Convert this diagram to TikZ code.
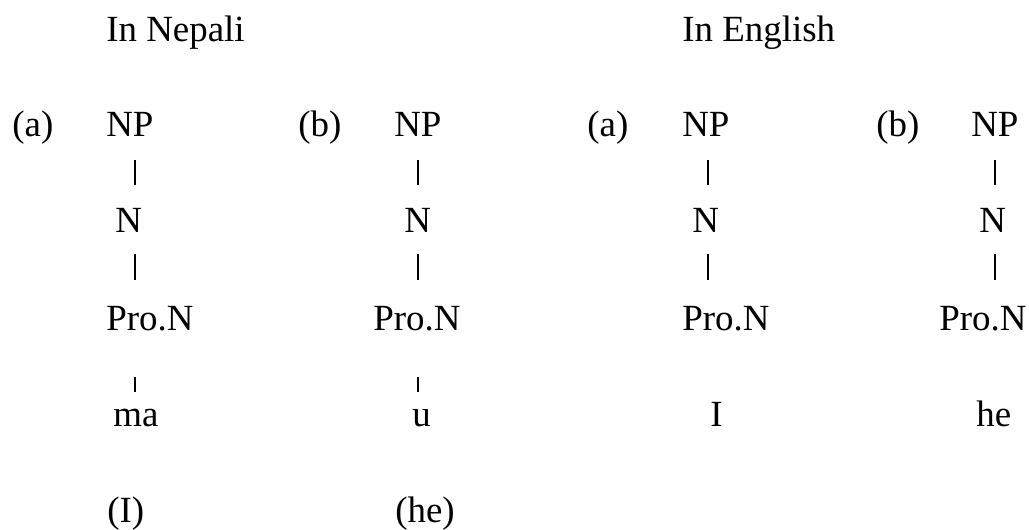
\documentclass[tikz,border=0pt]{standalone}
\usepackage{fontspec}
\setmainfont{Liberation Serif}

\begin{document}
\begin{tikzpicture}[x=0.02cm,y=-0.02cm,
  every node/.style={anchor=base west,inner sep=0pt,font=\fontsize{21}{25}\selectfont},
  tick/.style={line width=0.85pt}]
\useasboundingbox (0,0) rectangle (1029,530);

\node (nep) at (106,42) {In Nepali};
\node (eng) at (682,42) {In English};

% Nepali (a)
\node (la1) at (12,137) {(a)};
\node (np1) at (106,137) {NP};
\node (n1) at (115,233) {N};
\node (pn1) at (106,331) {Pro.N};
\node (w1) at (113,427) {ma};
\node (g1) at (107,522) {(I)};

% Nepali (b)
\node (lb2) at (298,137) {(b)};
\node (np2) at (394,137) {NP};
\node (n2) at (404,233) {N};
\node (pn2) at (373,331) {Pro.N};
\node (w2) at (412,427) {u};
\node (g2) at (395,522) {(he)};

% English (a)
\node (la3) at (587,137) {(a)};
\node (np3) at (682,137) {NP};
\node (n3) at (692,233) {N};
\node (pn3) at (682,331) {Pro.N};
\node (w3) at (710,427) {I};

% English (b)
\node (lb4) at (876,137) {(b)};
\node (np4) at (971,137) {NP};
\node (n4) at (979,233) {N};
\node (pn4) at (939,331) {Pro.N};
\node (w4) at (976,427) {he};

% the little upright strokes
\coordinate (c1) at (135,0);
\coordinate (c2) at (418,0);
\coordinate (c3) at (708,0);
\coordinate (c4) at (995,0);

\draw[tick] (c1 |- np1.base) ++(0,23) -- ++(0,25);
\draw[tick] (c1 |- n1.base) ++(0,21) -- ++(0,26);
\draw[tick] (c1 |- pn1.base) ++(0,46) -- ++(0,15);

\draw[tick] (c2 |- np2.base) ++(0,23) -- ++(0,25);
\draw[tick] (c2 |- n2.base) ++(0,21) -- ++(0,26);
\draw[tick] (c2 |- pn2.base) ++(0,46) -- ++(0,15);

\draw[tick] (c3 |- np3.base) ++(0,23) -- ++(0,25);
\draw[tick] (c3 |- n3.base) ++(0,21) -- ++(0,26);

\draw[tick] (c4 |- np4.base) ++(0,23) -- ++(0,25);
\draw[tick] (c4 |- n4.base) ++(0,21) -- ++(0,26);
\end{tikzpicture}
\end{document}
